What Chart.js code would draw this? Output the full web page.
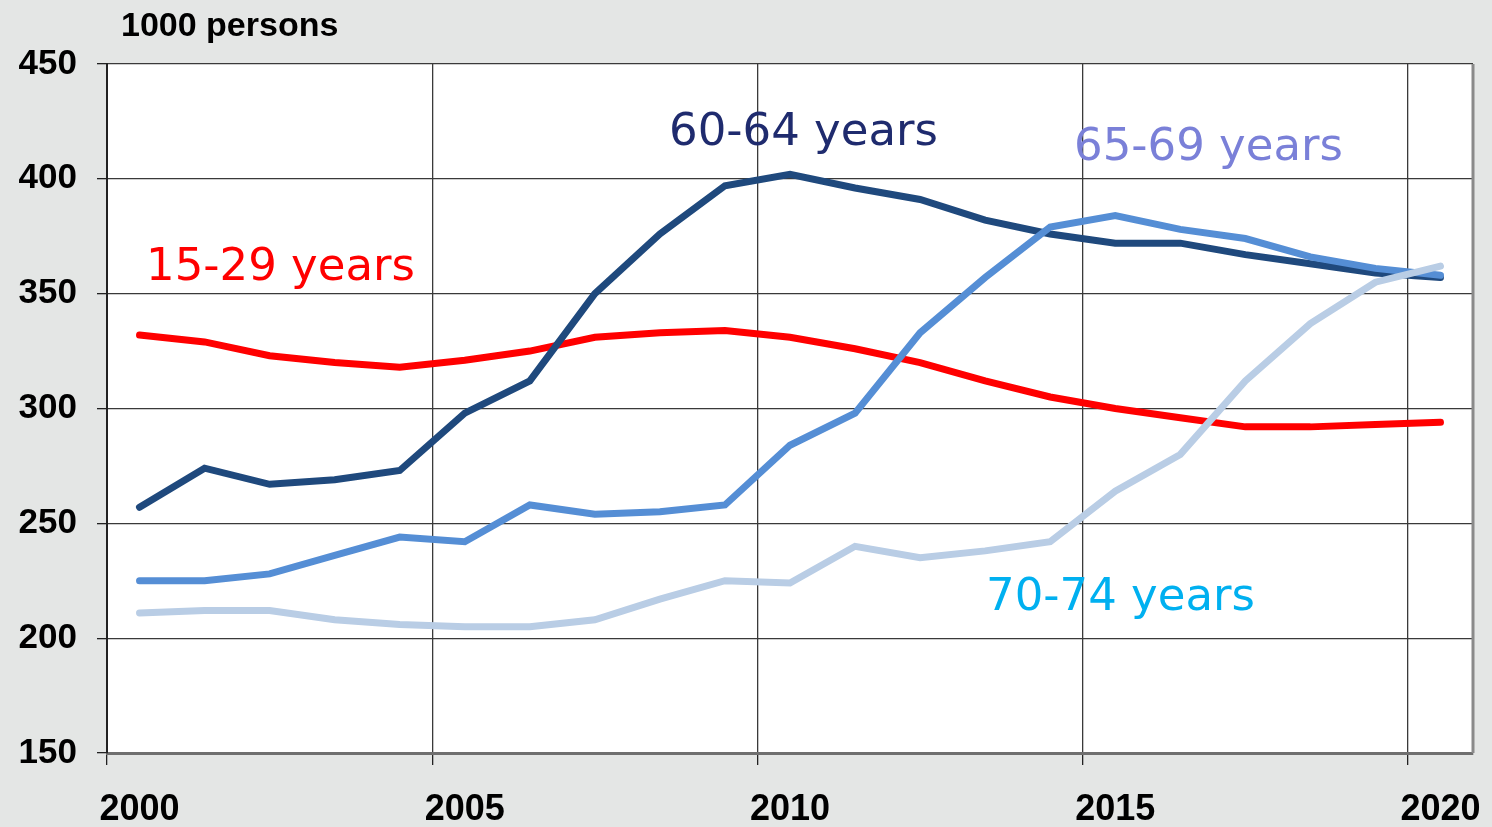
<!DOCTYPE html>
<html lang="en">
<head>
    <meta charset="UTF-8">
    <title>Persons by age group, 2000-2020</title>
    <script src="https://cdn.jsdelivr.net/npm/chart.js"></script>
    <style>
        body {
            margin: 0;
            background-color: #e4e6e5;
        }

        .chart-container {
            position: relative;
            width: 1492px;
            height: 827px;
        }
    </style>
</head>
<body>
    <div class="chart-container">
        <canvas id="lineChart"></canvas>
    </div>

    <script>
        // Data (1000 persons, mid-year values)
        const years = [2000, 2001, 2002, 2003, 2004, 2005, 2006, 2007, 2008, 2009, 2010,
                       2011, 2012, 2013, 2014, 2015, 2016, 2017, 2018, 2019, 2020];
        const age15to29 = [332, 329, 323, 320, 318, 321, 325, 331, 333, 334, 331,
                           326, 320, 312, 305, 300, 296, 292, 292, 293, 294];
        const age60to64 = [257, 274, 267, 269, 273, 298, 312, 350, 376, 397, 402,
                           396, 391, 382, 376, 372, 372, 367, 363, 359, 357];
        const age65to69 = [225, 225, 228, 236, 244, 242, 258, 254, 255, 258, 284,
                           298, 333, 357, 379, 384, 378, 374, 366, 361, 358];
        const age70to74 = [211, 212, 212, 208, 206, 205, 205, 208, 217, 225, 224,
                           240, 235, 238, 242, 264, 280, 312, 337, 355, 362];
        const yTicks = [150, 200, 250, 300, 350, 400, 450];

        const seriesLabels = [
            { text: '15-29 years', color: '#ff0000', x: 146, y: 280 },
            { text: '60-64 years', color: '#1f2b6e', x: 669, y: 145 },
            { text: '65-69 years', color: '#7a80d8', x: 1074, y: 160 },
            { text: '70-74 years', color: '#00b0f0', x: 986, y: 610 }
        ];

        // Grey page, white plot area, right frame edge
        const backdrop = {
            id: 'backdrop',
            beforeDraw(chart) {
                const { ctx, chartArea: a } = chart;
                ctx.save();
                ctx.fillStyle = '#e4e6e5';
                ctx.fillRect(0, 0, chart.width, chart.height);
                ctx.fillStyle = '#ffffff';
                ctx.fillRect(a.left, a.top, a.right - a.left, a.bottom - a.top);
                ctx.restore();
            },
            beforeDatasetsDraw(chart) {
                const { ctx, chartArea: a } = chart;
                ctx.save();
                ctx.strokeStyle = '#8a8a8a';
                ctx.lineWidth = 3;
                ctx.beginPath();
                ctx.moveTo(a.right, a.top);
                ctx.lineTo(a.right, a.bottom);
                ctx.stroke();
                ctx.restore();
            }
        };

        // Unit caption and in-chart series labels
        const captions = {
            id: 'captions',
            afterDraw(chart) {
                const ctx = chart.ctx;
                ctx.save();
                ctx.textAlign = 'left';
                ctx.textBaseline = 'alphabetic';
                ctx.fillStyle = '#000';
                ctx.font = 'bold 34px "Liberation Sans", Arial, sans-serif';
                ctx.fillText('1000 persons', 121, 36);
                ctx.font = '45px "DejaVu Sans", sans-serif';
                seriesLabels.forEach(l => {
                    ctx.fillStyle = l.color;
                    ctx.fillText(l.text, l.x, l.y);
                });
                ctx.restore();
            }
        };

        const showYear = i => years[i] % 5 === 0;

        new Chart(document.getElementById('lineChart'), {
            type: 'line',
            data: {
                labels: years.map(String),
                datasets: [
                    { label: '70-74 years', data: age70to74, borderColor: '#b9cde5' },
                    { label: '65-69 years', data: age65to69, borderColor: '#558ed5' },
                    { label: '60-64 years', data: age60to64, borderColor: '#1f497d' },
                    { label: '15-29 years', data: age15to29, borderColor: '#ff0000' }
                ].map(d => ({ ...d, borderWidth: 7, pointRadius: 0, tension: 0, fill: false, borderCapStyle: 'round' }))
            },
            options: {
                responsive: true,
                maintainAspectRatio: false,
                animation: false,
                layout: { padding: { top: 64, right: 19, left: 0, bottom: 0 } },
                plugins: {
                    legend: { display: false },
                    tooltip: { enabled: false }
                },
                scales: {
                    x: {
                        type: 'category',
                        offset: true,
                        grid: {
                            offset: true,
                            drawTicks: true,
                            tickLength: 12,
                            color: c => (c.index < years.length && showYear(c.index)) ? '#3a3a3a' : 'transparent',
                            tickColor: c => (c.index < years.length && showYear(c.index)) ? '#222' : 'transparent',
                            lineWidth: 1.3
                        },
                        border: { color: '#6f6f6f', width: 3 },
                        ticks: {
                            autoSkip: false,
                            maxRotation: 0,
                            padding: 23,
                            color: '#000',
                            font: { family: '"Liberation Sans", Arial, sans-serif', size: 36, weight: 'bold' },
                            callback: (v, i) => showYear(i) ? years[i] : ''
                        },
                        afterFit: s => {
                            s.height = 74;
                            s.paddingLeft = 0;
                            s.paddingRight = 0;
                        }
                    },
                    y: {
                        min: yTicks[0],
                        max: yTicks[yTicks.length - 1],
                        afterBuildTicks: s => { s.ticks = yTicks.map(v => ({ value: v })); },
                        grid: {
                            drawTicks: true,
                            tickLength: 10,
                            color: '#3a3a3a',
                            tickColor: '#222',
                            lineWidth: 1.3
                        },
                        border: { color: '#222', width: 2 },
                        ticks: {
                            padding: 20,
                            color: '#000',
                            font: { family: '"Liberation Sans", Arial, sans-serif', size: 35, weight: 'bold' }
                        },
                        afterFit: s => {
                            s.width = 107;
                            s.paddingTop = 0;
                            s.paddingBottom = 0;
                        }
                    }
                }
            },
            plugins: [backdrop, captions]
        });
    </script>
</body>
</html>
